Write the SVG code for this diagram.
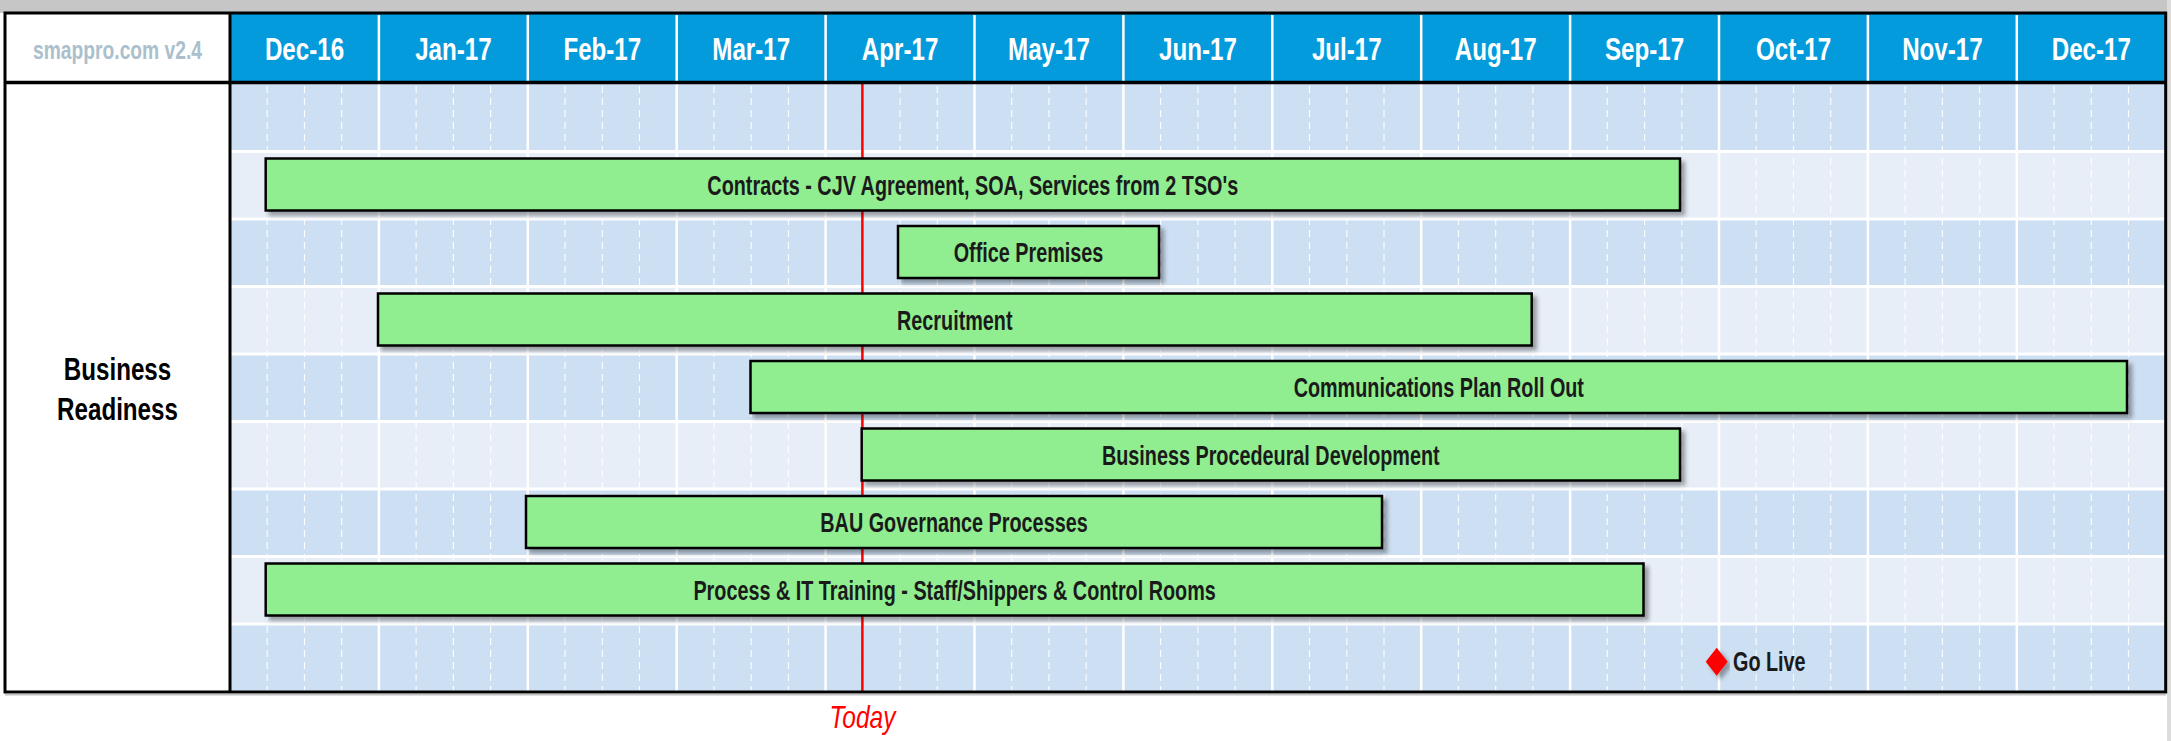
<svg xmlns="http://www.w3.org/2000/svg" width="2171" height="741" viewBox="0 0 2171 741">
<style>
.hdr{font-family:"Liberation Sans",Arial,sans-serif;font-weight:bold;font-size:32px;fill:#ffffff;text-anchor:middle}
.lbl{font-family:"Liberation Sans",Arial,sans-serif;font-weight:bold;font-size:27.5px;fill:#1a1a1a;text-anchor:middle}
.side{font-family:"Liberation Sans",Arial,sans-serif;font-weight:bold;font-size:32px;fill:#000000;text-anchor:middle}
.brand{font-family:"Liberation Sans",Arial,sans-serif;font-weight:bold;font-size:26px;fill:#aac0cc;text-anchor:middle}
.today{font-family:"Liberation Sans",Arial,sans-serif;font-style:italic;font-size:31px;fill:#ff0000;text-anchor:middle}
.rowA{fill:#cddff2}
.rowB{fill:#e7eef8}
.msep{stroke:#ffffff;stroke-width:2.5;fill:none}
.dash{stroke:#ffffff;stroke-width:1.2;stroke-dasharray:7 5;fill:none;opacity:0.9}
.rsep{stroke:#ffffff;stroke-width:3;fill:none}
.bar{fill:#90ee90;stroke:#000000;stroke-width:2.5;filter:url(#sh)}
</style>
<defs>
<filter id="sh" x="-5%" y="-30%" width="115%" height="170%">
<feDropShadow dx="4" dy="4" stdDeviation="2" flood-color="#000000" flood-opacity="0.35"/>
</filter>
</defs>
<rect x="0" y="0" width="2171" height="741" fill="#ffffff"/>
<rect x="0" y="0" width="2171" height="13" fill="#c6c6c6"/>
<rect x="2167" y="0" width="4" height="741" fill="#dcdcdc"/>

<g id="header">
<rect x="230" y="13" width="1935.7" height="70" fill="#039bdb"/>
<rect x="5" y="13" width="225" height="70" fill="#ffffff"/>
<path class="msep" d="M378.9 15V81M527.8 15V81M676.7 15V81M825.6 15V81M974.5 15V81M1123.4 15V81M1272.3 15V81M1421.2 15V81M1570.1 15V81M1719 15V81M1867.9 15V81M2016.8 15V81"/>
<text class="brand" transform="translate(117.5,59) scale(0.74,1)">smappro.com v2.4</text>
<text class="hdr" transform="translate(304.5,60) scale(0.755,1)">Dec-16</text>
<text class="hdr" transform="translate(453.4,60) scale(0.755,1)">Jan-17</text>
<text class="hdr" transform="translate(602.3,60) scale(0.755,1)">Feb-17</text>
<text class="hdr" transform="translate(751.2,60) scale(0.755,1)">Mar-17</text>
<text class="hdr" transform="translate(900.1,60) scale(0.755,1)">Apr-17</text>
<text class="hdr" transform="translate(1049,60) scale(0.755,1)">May-17</text>
<text class="hdr" transform="translate(1197.9,60) scale(0.755,1)">Jun-17</text>
<text class="hdr" transform="translate(1346.8,60) scale(0.755,1)">Jul-17</text>
<text class="hdr" transform="translate(1495.7,60) scale(0.755,1)">Aug-17</text>
<text class="hdr" transform="translate(1644.6,60) scale(0.755,1)">Sep-17</text>
<text class="hdr" transform="translate(1793.5,60) scale(0.755,1)">Oct-17</text>
<text class="hdr" transform="translate(1942.4,60) scale(0.755,1)">Nov-17</text>
<text class="hdr" transform="translate(2091.3,60) scale(0.755,1)">Dec-17</text>
</g>

<g id="grid">
<rect class="rowA" x="230" y="84" width="1935.7" height="67.5"/>
<rect class="rowB" x="230" y="151.5" width="1935.7" height="67.5"/>
<rect class="rowA" x="230" y="219" width="1935.7" height="67.5"/>
<rect class="rowB" x="230" y="286.5" width="1935.7" height="67.5"/>
<rect class="rowA" x="230" y="354" width="1935.7" height="67.5"/>
<rect class="rowB" x="230" y="421.5" width="1935.7" height="67.5"/>
<rect class="rowA" x="230" y="489" width="1935.7" height="67.5"/>
<rect class="rowB" x="230" y="556.5" width="1935.7" height="67.5"/>
<rect class="rowA" x="230" y="624" width="1935.7" height="67.5"/>
<path class="dash" d="M267.2 86V690M304.5 86V690M341.7 86V690M416.1 86V690M453.4 86V690M490.6 86V690M565 86V690M602.3 86V690M639.5 86V690M713.9 86V690M751.2 86V690M788.4 86V690M862.8 86V690M900.1 86V690M937.3 86V690M1011.7 86V690M1049 86V690M1086.2 86V690M1160.6 86V690M1197.9 86V690M1235.1 86V690M1309.5 86V690M1346.8 86V690M1384 86V690M1458.4 86V690M1495.7 86V690M1532.9 86V690M1607.3 86V690M1644.6 86V690M1681.8 86V690M1756.2 86V690M1793.5 86V690M1830.7 86V690M1905.1 86V690M1942.4 86V690M1979.6 86V690M2054 86V690M2091.3 86V690M2128.5 86V690"/>
<path class="msep" d="M378.9 84V691M527.8 84V691M676.7 84V691M825.6 84V691M974.5 84V691M1123.4 84V691M1272.3 84V691M1421.2 84V691M1570.1 84V691M1719 84V691M1867.9 84V691M2016.8 84V691"/>
<path class="rsep" d="M230 151.5H2166M230 219H2166M230 286.5H2166M230 354H2166M230 421.5H2166M230 489H2166M230 556.5H2166M230 624H2166"/>
</g>

<g id="today">
<line x1="862.4" y1="84" x2="862.4" y2="691" stroke="#ff0000" stroke-width="2.5"/>
<text class="today" transform="translate(862.5,728) scale(0.79,1)">Today</text>
</g>

<g id="frame">
<rect x="5" y="84" width="225" height="607.5" fill="#ffffff"/>
<rect x="5" y="13" width="2160.7" height="679" fill="none" stroke="#000000" stroke-width="3"/>
<line x1="5" y1="82.5" x2="2165.7" y2="82.5" stroke="#000000" stroke-width="3.5"/>
<line x1="230" y1="13" x2="230" y2="692" stroke="#000000" stroke-width="3"/>
<line x1="5" y1="694.5" x2="2166" y2="694.5" stroke="#9a9a9a" stroke-width="2" opacity="0.6"/>
</g>

<g id="group-business-readiness">
<text class="side" transform="translate(117.5,380) scale(0.755,1)">Business</text>
<text class="side" transform="translate(117.5,420) scale(0.755,1)">Readiness</text>
</g>

<g id="task-contracts">
<rect class="bar" x="265.7" y="158.5" width="1414.3" height="52"/>
<text class="lbl" transform="translate(972.8,194.5) scale(0.72,1)">Contracts - CJV Agreement, SOA, Services from 2 TSO's</text>
</g>
<g id="task-office-premises">
<rect class="bar" x="898" y="226" width="261" height="52"/>
<text class="lbl" transform="translate(1028.5,262) scale(0.72,1)">Office Premises</text>
</g>
<g id="task-recruitment">
<rect class="bar" x="378" y="293.5" width="1153.7" height="52"/>
<text class="lbl" transform="translate(954.8,329.5) scale(0.72,1)">Recruitment</text>
</g>
<g id="task-communications">
<rect class="bar" x="750.5" y="361" width="1376.5" height="52"/>
<text class="lbl" transform="translate(1438.8,397) scale(0.72,1)">Communications Plan Roll Out</text>
</g>
<g id="task-business-procedural">
<rect class="bar" x="861.7" y="428.5" width="818.3" height="52"/>
<text class="lbl" transform="translate(1270.8,464.5) scale(0.72,1)">Business Procedeural Development</text>
</g>
<g id="task-bau-governance">
<rect class="bar" x="526" y="496" width="856" height="52"/>
<text class="lbl" transform="translate(954,532) scale(0.72,1)">BAU Governance Processes</text>
</g>
<g id="task-process-it-training">
<rect class="bar" x="265.7" y="563.5" width="1377.8" height="52"/>
<text class="lbl" transform="translate(954.6,599.5) scale(0.72,1)">Process &amp; IT Training - Staff/Shippers &amp; Control Rooms</text>
</g>

<g id="milestone-go-live">
<polygon points="1716.7,647.7 1727.7,661.7 1716.7,675.7 1705.7,661.7" fill="#ff0000" filter="url(#sh)"/>
<text class="lbl" style="text-anchor:start" transform="translate(1733,671) scale(0.72,1)">Go Live</text>
</g>

<g id="connectors"/>
</svg>
